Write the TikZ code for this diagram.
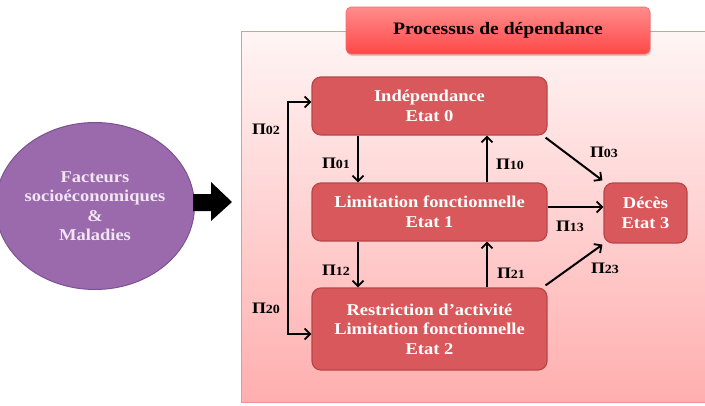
\documentclass[tikz,border=0pt]{standalone}
\usepackage{fontspec}
\setmainfont{Liberation Serif}[FakeStretch=1.12]
\usetikzlibrary{arrows.meta,shapes.geometric,shadows}
\definecolor{boxfill}{HTML}{D9585B}
\definecolor{boxline}{HTML}{B84648}
\definecolor{panelline}{HTML}{E99597}
\definecolor{circfill}{HTML}{9A6AAD}
\definecolor{circline}{HTML}{7E5193}
\tikzset{
  statebox/.style={draw=boxline, line width=1.2pt, fill=boxfill, rounded corners=9pt,
    text=white, font=\bfseries\fontsize{16.5}{19.5}\selectfont, align=center,
    inner sep=0pt, minimum width=235pt},
  arr/.style={line width=2pt, -{Straight Barb[length=5.5pt,width=11pt,line width=1.8pt]}},
  arrboth/.style={line width=2pt, {Straight Barb[length=5.5pt,width=11pt,line width=1.8pt]}-{Straight Barb[length=5.5pt,width=11pt,line width=1.8pt]}},
  plab/.style={font=\bfseries\fontsize{16}{18}\selectfont, text=black, inner sep=0pt}
}
\newcommand{\pl}[1]{Π{\fontsize{12.5}{14}\selectfont #1}}
\begin{document}
\begin{tikzpicture}[x=1pt,y=-1pt]
\useasboundingbox (0,0) rectangle (705,405);
% panel
\shade[top color=red!4!white, bottom color=red!32!white!95!pink] (241,31) rectangle (712,402);
\draw[panelline, line width=1pt] (712,31) -- (241,31) -- (241,402) -- (712,402);
% title
\node[draw=red!60!white, line width=0.6pt, rounded corners=5pt, top color=red!45!white, bottom color=red!72!white,
      drop shadow={shadow xshift=1pt, shadow yshift=-2pt, opacity=0.35},
      minimum width=304pt, minimum height=47pt, inner sep=0pt,
      font=\bfseries\fontsize{17.5}{20}\selectfont] (title) at (498,30.5) {Processus de dépendance};
% circle
\node[ellipse, draw=circline, line width=1pt, fill=circfill, minimum width=176pt, minimum height=167pt,
      inner sep=0pt, align=center, text=white!90!violet, font=\bfseries\fontsize{16.5}{19.5}\selectfont]
      (facteurs) at (95,206) {Facteurs\\socioéconomiques\\\&\\Maladies};
% block arrow
\fill[black] (193,194) -- (211,194) -- (211,182) -- (232,202) -- (211,221) -- (211,211) -- (193,211) -- cycle;
% states
\node[statebox, minimum height=58pt] (indep) at (429.5,106) {Indépendance\\Etat 0};
\node[statebox, minimum height=58pt] (lim) at (429.5,212) {Limitation fonctionnelle\\Etat 1};
\node[statebox, minimum height=82pt] (restr) at (429.5,329) {Restriction d’activité\\Limitation fonctionnelle\\Etat 2};
\node[statebox, minimum width=83pt, minimum height=60pt] (deces) at (645.5,213) {Décès\\Etat 3};
% arrows
\draw[arr] ([xshift=-71.5pt]indep.south) -- ([xshift=-71.5pt]lim.north);
\draw[arr] ([xshift=57.5pt]lim.north) -- ([xshift=57.5pt]indep.south);
\draw[arr] ([xshift=-71.5pt]lim.south) -- ([xshift=-71.5pt]restr.north);
\draw[arr] ([xshift=57.5pt]restr.north) -- ([xshift=57.5pt]lim.south);
\draw[arrboth] ([yshift=4pt]indep.west) -- ++(-23pt,0) |- ([yshift=-5pt]restr.west);
\draw[arr] ([shift={(-2pt,-2pt)}]indep.south east) -- ([shift={(-1pt,2pt)}]deces.north west);
\draw[arr] ([yshift=5pt]lim.east) -- ([yshift=5pt]lim.east -| deces.west);
\draw[arr] ([shift={(-2pt,2pt)}]restr.north east) -- ([shift={(-1pt,-1pt)}]deces.south west);
% labels
\node[plab] (p02) at (266,129) {\pl{02}};
\node[plab] (p01) at (336,163) {\pl{01}};
\node[plab] (p10) at (510,164) {\pl{10}};
\node[plab] (p12) at (336,270) {\pl{12}};
\node[plab] (p21) at (511,273) {\pl{21}};
\node[plab] (p20) at (266,308) {\pl{20}};
\node[plab] (p03) at (604,152) {\pl{03}};
\node[plab] (p13) at (570,226) {\pl{13}};
\node[plab] (p23) at (605,268) {\pl{23}};
\end{tikzpicture}
\end{document}
